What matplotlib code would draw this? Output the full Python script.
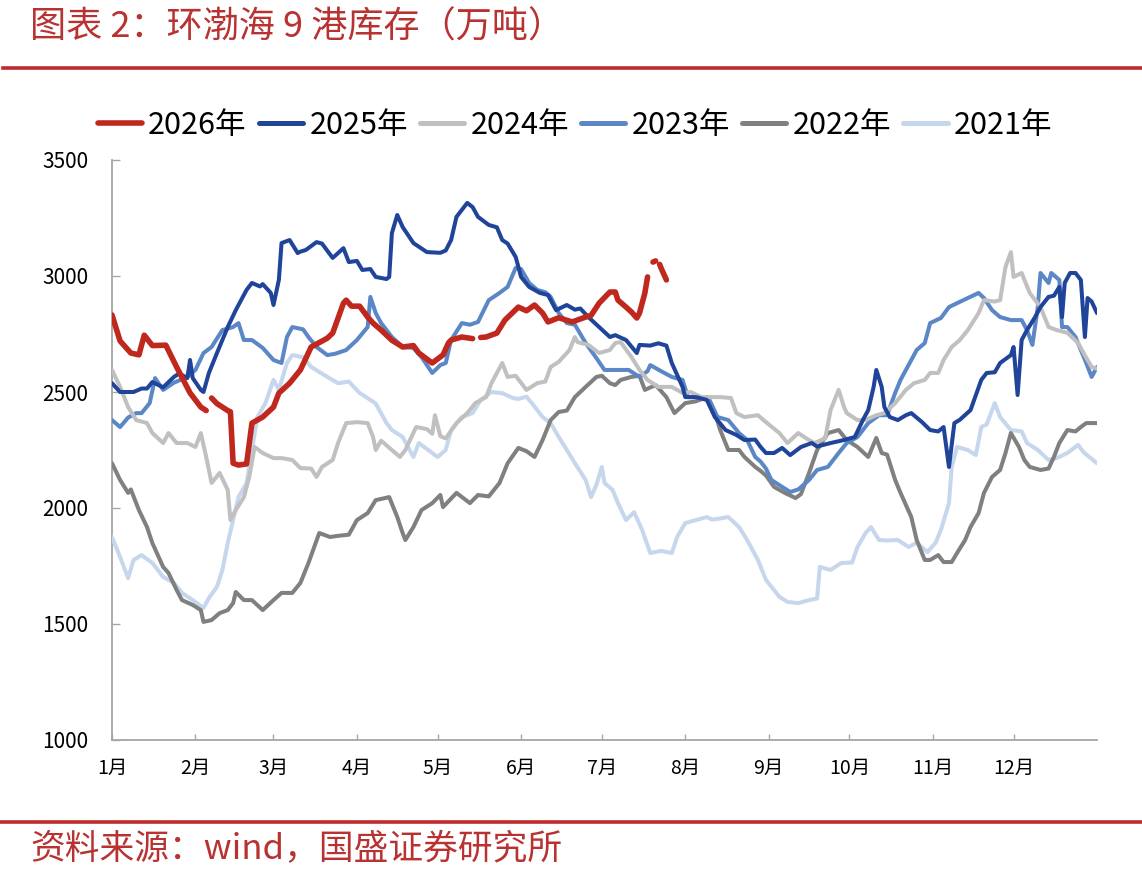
import numpy as np
import matplotlib
matplotlib.use("Agg")
import matplotlib.pyplot as plt
from matplotlib.lines import Line2D

plt.rcParams['font.family'] = ['Noto Sans CJK SC', 'DejaVu Sans']

nan = np.nan

# ---- data (day of year, inventory in 万吨) ----
d2026 = [0, 3, 7, 10, 12, 15, 20, 24, 29, 33, 35, 36, 37, 39, 43, 44, 45, 47, 50, 52, 56, 60, 62, 66, 70, 74, 80, 82, 86, 87, 89, 92, 95, 97, 100, 104, 108, 112, 114, 119, 123, 125, 126, 130, 134, 135.5, 137, 139, 143, 146, 151, 154, 157, 160, 162, 166, 171, 176, 178, 181, 185, 187, 188, 191, 193, 195, 196, 198, 199, 200, 201, 202, 202.8, 203.5, 204, 206]
v2026 = [2832, 2720, 2668, 2660, 2745, 2700, 2702, 2608, 2496, 2435, 2420, nan, 2474, 2450, 2420, 2415, 2193, 2185, 2190, 2366, 2392, 2435, 2495, 2538, 2595, 2694, 2732, 2754, 2883, 2896, 2870, 2870, 2823, 2797, 2767, 2723, 2694, 2700, 2668, 2625, 2660, 2711, 2724, 2737, 2730, nan, 2735, 2737, 2754, 2810, 2866, 2850, 2875, 2840, 2802, 2820, 2802, 2823, 2830, 2883, 2931, 2931, 2896, 2866, 2845, 2819, 2840, 2927, 2996, nan, 3060, 3065, nan, 3050, 3035, 2983]

d2025 = [0, 3, 8, 11, 13, 15, 19, 23, 25, 28, 29, 30, 33, 34, 36, 39, 43, 46, 50, 52, 55, 56, 59, 60, 62, 63, 66, 69, 70, 72, 76, 78, 82, 86, 88, 91, 93, 96, 98, 102, 103, 104, 106, 108, 112, 117, 122, 124, 126, 128, 132, 134, 136, 140, 143, 145, 147, 150, 152, 155, 159, 162, 165, 169, 172, 174, 177, 181, 185, 187, 191, 195, 196, 200, 203, 206, 208, 210, 212, 213, 217, 221, 224, 228, 232, 235, 239, 241, 243, 246, 249, 252, 256, 260, 262, 267, 272, 276, 279, 281, 283, 284, 286, 287, 289, 292, 295, 297, 301, 304, 307, 309, 311, 313, 315, 319, 323, 325, 328, 330, 334, 335, 336.5, 338, 340, 343, 345, 348, 350, 352, 353, 354, 356, 358, 360, 361.5, 362.5, 364, 366]
v2025 = [2538, 2500, 2500, 2515, 2515, 2543, 2520, 2565, 2580, 2560, 2638, 2560, 2509, 2500, 2582, 2668, 2780, 2853, 2940, 2970, 2955, 2965, 2927, 2875, 2983, 3142, 3155, 3099, 3105, 3112, 3146, 3140, 3078, 3120, 3060, 3065, 3026, 3030, 2996, 2987, 2996, 3185, 3263, 3211, 3142, 3103, 3100, 3110, 3155, 3255, 3315, 3297, 3255, 3220, 3210, 3155, 3140, 3082, 2996, 2953, 2927, 2918, 2853, 2875, 2855, 2860, 2823, 2780, 2737, 2745, 2724, 2668, 2703, 2700, 2710, 2700, 2625, 2573, 2522, 2478, 2478, 2466, 2392, 2336, 2315, 2293, 2295, 2263, 2237, 2237, 2259, 2228, 2263, 2280, 2265, 2280, 2293, 2306, 2379, 2422, 2522, 2595, 2522, 2435, 2392, 2379, 2400, 2409, 2370, 2336, 2330, 2349, 2177, 2366, 2380, 2422, 2552, 2582, 2585, 2625, 2659, 2694, 2487, 2724, 2767, 2823, 2866, 2910, 2915, 2953, 2823, 2970, 3013, 3013, 2983, 2737, 2905, 2890, 2840]

d2024 = [0, 3, 6, 9, 13, 15, 19, 21, 24, 28, 31, 33, 35, 37, 40, 43, 44, 46, 49, 51, 53, 56, 60, 63, 67, 70, 74, 76, 78, 82, 84, 87, 91, 95, 97, 98, 100, 104, 107, 109, 113, 117, 119, 120, 122, 124, 128, 132, 135, 139, 141, 145, 147, 150, 154, 158, 161, 163, 166, 170, 172, 173, 177, 181, 185, 187, 189, 193, 196, 199, 203, 208, 212, 215, 219, 223, 226, 230, 232, 235, 240, 243, 248, 251, 255, 258, 261, 265, 267, 270, 272, 273, 277, 280, 284, 287, 291, 295, 298, 302, 304, 307, 309, 312, 315, 318, 322, 324, 328, 330, 332, 334, 335, 338, 341, 345, 348, 351, 355, 359, 361, 364, 366]
v2024 = [2595, 2522, 2435, 2379, 2366, 2323, 2280, 2323, 2280, 2280, 2263, 2323, 2220, 2108, 2151, 2078, 1948, 1991, 2047, 2134, 2263, 2237, 2215, 2215, 2207, 2172, 2170, 2134, 2177, 2207, 2280, 2366, 2370, 2366, 2306, 2250, 2290, 2250, 2220, 2250, 2349, 2340, 2320, 2400, 2310, 2300, 2366, 2409, 2452, 2478, 2538, 2625, 2565, 2570, 2509, 2538, 2545, 2608, 2630, 2681, 2737, 2715, 2703, 2668, 2681, 2711, 2715, 2651, 2595, 2552, 2522, 2522, 2496, 2500, 2478, 2478, 2478, 2474, 2409, 2392, 2400, 2370, 2323, 2280, 2323, 2300, 2280, 2300, 2422, 2509, 2435, 2409, 2379, 2379, 2400, 2409, 2452, 2509, 2538, 2552, 2582, 2582, 2638, 2694, 2724, 2767, 2840, 2896, 2890, 2896, 3039, 3103, 2996, 3013, 2927, 2866, 2780, 2767, 2755, 2711, 2668, 2608, 2600]

d2023 = [0, 3, 6, 9, 11, 14, 16, 19, 23, 28, 31, 34, 37, 41, 45, 47, 49, 52, 56, 60, 63, 65, 67, 71, 73, 76, 80, 83, 87, 91, 95, 96, 98, 100, 104, 108, 112, 115, 119, 122, 124, 126, 130, 133, 136, 140, 144, 147, 150, 152, 155, 158, 161, 163, 166, 169, 172, 176, 180, 183, 188, 192, 196, 199, 200, 204, 208, 212, 214, 218, 222, 225, 229, 233, 236, 239, 241, 243, 245, 249, 252, 255, 259, 262, 266, 270, 273, 277, 281, 285, 288, 291, 293, 297, 299, 302, 304, 308, 311, 314, 318, 322, 324, 327, 330, 334, 338, 340, 342, 344, 345, 348, 349, 352, 353, 355, 358, 360, 362, 364, 366]
v2023 = [2379, 2349, 2390, 2409, 2409, 2452, 2560, 2509, 2540, 2565, 2595, 2668, 2694, 2767, 2780, 2797, 2724, 2724, 2690, 2638, 2625, 2737, 2780, 2770, 2737, 2694, 2659, 2665, 2681, 2724, 2780, 2910, 2840, 2797, 2737, 2694, 2690, 2651, 2582, 2616, 2625, 2724, 2797, 2790, 2802, 2896, 2927, 2953, 3035, 3030, 2970, 2940, 2930, 2910, 2840, 2797, 2790, 2711, 2646, 2595, 2595, 2595, 2565, 2590, 2616, 2590, 2565, 2552, 2478, 2478, 2466, 2392, 2379, 2323, 2293, 2220, 2200, 2170, 2121, 2091, 2069, 2080, 2121, 2164, 2177, 2237, 2280, 2306, 2366, 2400, 2400, 2496, 2552, 2638, 2681, 2711, 2797, 2819, 2866, 2883, 2905, 2927, 2905, 2853, 2823, 2810, 2810, 2767, 2703, 2866, 3013, 2970, 3013, 2983, 2780, 2780, 2737, 2681, 2625, 2565, 2608]

d2022 = [0, 3, 6, 7, 10, 13, 15, 19, 21, 24, 26, 30, 33, 34, 37, 40, 43, 45, 46, 49, 52, 56, 60, 63, 67, 70, 73, 77, 81, 84, 88, 91, 95, 98, 103, 106, 108, 109, 112, 115, 119, 122, 123, 128, 133, 136, 140, 144, 147, 151, 154, 157, 160, 163, 166, 169, 172, 176, 180, 182, 185, 187, 189, 193, 196, 198, 202, 206, 209, 213, 217, 221, 224, 226, 229, 233, 235, 239, 241, 243, 246, 250, 254, 256, 259, 262, 266, 270, 273, 277, 281, 284, 286, 288, 291, 293, 297, 299, 302, 304, 307, 309, 312, 314, 317, 319, 322, 324, 327, 330, 332, 334, 337, 339, 341, 345, 348, 350, 352, 355, 358, 360, 362, 366]
v2022 = [2193, 2121, 2065, 2080, 1991, 1918, 1849, 1746, 1720, 1647, 1603, 1582, 1560, 1509, 1517, 1547, 1560, 1590, 1638, 1603, 1603, 1560, 1603, 1634, 1634, 1677, 1763, 1892, 1875, 1880, 1885, 1948, 1978, 2034, 2047, 1961, 1892, 1862, 1918, 1991, 2021, 2056, 2004, 2065, 2021, 2056, 2050, 2108, 2193, 2259, 2245, 2220, 2293, 2379, 2414, 2420, 2478, 2522, 2565, 2570, 2538, 2530, 2552, 2565, 2570, 2509, 2530, 2478, 2409, 2452, 2460, 2478, 2409, 2336, 2250, 2250, 2220, 2177, 2160, 2140, 2091, 2065, 2043, 2060, 2151, 2250, 2323, 2336, 2293, 2263, 2220, 2302, 2237, 2230, 2121, 2065, 1961, 1862, 1776, 1776, 1797, 1767, 1767, 1806, 1862, 1918, 1978, 2065, 2134, 2164, 2237, 2323, 2263, 2207, 2177, 2164, 2170, 2220, 2280, 2336, 2330, 2349, 2366, 2366]

d2021 = [0, 3, 6, 8, 11, 15, 19, 23, 26, 30, 34, 36, 39, 41, 43, 45, 47, 50, 52, 54, 57, 60, 62, 65, 67, 71, 74, 80, 84, 88, 92, 96, 98, 102, 104, 108, 112, 114, 119, 121, 124, 126, 130, 134, 137, 141, 145, 149, 151, 154, 156, 160, 163, 166, 169, 172, 176, 178, 180, 182, 183, 186, 188, 191, 194, 197, 200, 204, 208, 210, 213, 217, 221, 223, 226, 229, 233, 236, 240, 243, 248, 251, 255, 259, 262, 263, 267, 271, 275, 277, 280, 282, 285, 288, 292, 296, 299, 303, 306, 308, 311, 312, 314, 318, 321, 323, 325, 328, 330, 334, 338, 340, 344, 348, 351, 355, 359, 361, 366]
v2021 = [1875, 1789, 1698, 1776, 1797, 1763, 1703, 1677, 1634, 1603, 1569, 1612, 1660, 1733, 1849, 1948, 2047, 2108, 2250, 2392, 2452, 2552, 2509, 2625, 2659, 2650, 2608, 2565, 2538, 2545, 2496, 2466, 2450, 2366, 2336, 2306, 2220, 2280, 2237, 2220, 2250, 2336, 2392, 2409, 2466, 2500, 2495, 2474, 2470, 2480, 2452, 2392, 2366, 2306, 2250, 2193, 2121, 2047, 2100, 2177, 2108, 2078, 2021, 1948, 1982, 1905, 1806, 1815, 1806, 1875, 1935, 1948, 1961, 1950, 1955, 1961, 1918, 1862, 1776, 1690, 1617, 1595, 1590, 1603, 1610, 1746, 1733, 1763, 1765, 1832, 1892, 1918, 1862, 1860, 1862, 1832, 1850, 1810, 1850, 1905, 2021, 2177, 2263, 2250, 2228, 2349, 2360, 2452, 2392, 2336, 2330, 2280, 2250, 2207, 2215, 2237, 2272, 2240, 2193]

series_labels = ['2026年', '2025年', '2024年', '2023年', '2022年', '2021年']
month_labels = ['1月', '2月', '3月', '4月', '5月', '6月', '7月', '8月', '9月', '10月', '11月', '12月']
month_start_days = [0, 31, 60, 91, 121, 152, 182, 213, 244, 274, 305, 335]
y_ticks = [1000, 1500, 2000, 2500, 3000, 3500]

colors = ['#c0281e', '#1f4499', '#c0c0c0', '#5b87c6', '#808080', '#c6d6ec']
widths = [4.0, 2.9, 2.9, 2.9, 2.9, 2.9]
data = [(d2026, v2026), (d2025, v2025), (d2024, v2024), (d2023, v2023), (d2022, v2022), (d2021, v2021)]

fig = plt.figure(figsize=(11.42, 8.74), dpi=100)
ax = fig.add_axes([112/1142, 1-740/874, (1097-112)/1142, (740-160)/874])

for i in reversed(range(6)):
    d, v = data[i]
    ax.plot(d, v, color=colors[i], lw=widths[i], solid_capstyle='round',
            solid_joinstyle='round', zorder=10-i, label=series_labels[i])
handles = [Line2D([0], [0], color=colors[i], lw=4.0 if i == 0 else 3.6,
                  solid_capstyle='round') for i in range(6)]

ax.set_xlim(0, 366)
ax.set_ylim(1000, 3500)
ax.set_xticks(month_start_days)
ax.set_xticklabels(month_labels)
ax.set_yticks(y_ticks)
ax.set_yticklabels([str(t) for t in y_ticks])
for s in ['top', 'right']:
    ax.spines[s].set_visible(False)
for s in ['left', 'bottom']:
    ax.spines[s].set_color('#a6a6a6')
    ax.spines[s].set_linewidth(1.3)
ax.tick_params(axis='y', direction='in', length=6, width=1.0, color='#a6a6a6',
               labelsize=15, pad=17, labelcolor='#000000')
ax.tick_params(axis='x', direction='in', length=4, width=1.0, color='#a6a6a6',
               labelsize=14, pad=13, labelcolor='#000000')

fig.legend(handles, series_labels, loc='center', ncol=6,
           bbox_to_anchor=(575/1142, 1-125/874), frameon=False,
           fontsize=22, handlelength=1.45, handletextpad=0.2,
           columnspacing=0.4, borderpad=0)

red = '#bf2a2e'
fig.text(30/1142, 1-28/874, '图表 2：环渤海 9 港库存（万吨）', color='#b83232',
         fontsize=26, style='italic', va='center', ha='left')
fig.add_artist(Line2D([3/1142, 1], [1-68/874, 1-68/874], color=red, lw=2.6))
fig.add_artist(Line2D([0, 1], [1-822/874, 1-822/874], color=red, lw=2.6))
fig.text(30/1142, 1-850/874, '资料来源：wind，国盛证券研究所', color='#b83232',
         fontsize=25, style='italic', va='center', ha='left')

fig.savefig('out.png', dpi=100)
